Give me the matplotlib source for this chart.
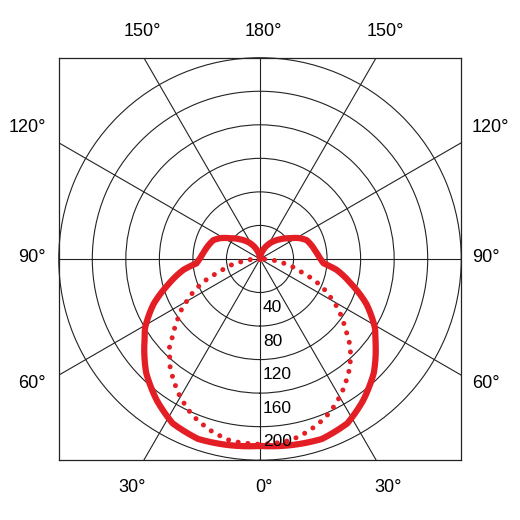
import numpy as np
import matplotlib
matplotlib.use('Agg')
import matplotlib.pyplot as plt

plt.rcParams['font.family'] = ['Liberation Sans', 'DejaVu Sans']

# angles measured from straight down (0°), one half of a symmetric curve
solid_gamma = [0, 9, 19, 28, 36, 45, 55, 59, 67, 74, 82, 86, 90, 96, 104, 112,
               118, 125, 135, 148, 160, 170, 180]
solid_vals = [223, 225, 227, 222, 209, 192, 168, 160, 138, 115, 92, 76, 72, 68,
              64, 60, 53, 43, 33, 22, 12, 5, 0]

dotted_gamma = [0, 7.5, 10, 13, 16, 19, 22, 25, 28, 31, 34, 37, 40, 43, 46, 48,
                54, 57, 60, 63, 66, 69, 71, 74, 78, 81, 86, 90]
dotted_vals = [221, 220, 219, 216, 213, 209, 205, 200, 194, 188, 181, 174, 167,
               158, 150, 141, 121, 112, 101, 91, 80, 68, 58, 46, 36, 24, 13, 0]

ring_vals = [40, 80, 120, 160, 200]
r_max = 240
spoke_angles = np.arange(0, 360, 30)

red = '#e31e24'


def mirror(gamma, vals):
    g = np.radians(np.array(gamma, dtype=float))
    v = np.array(vals, dtype=float)
    return np.concatenate([-g[::-1], g[1:]]), np.concatenate([v[::-1], v[1:]])


fig = plt.figure(figsize=(5.2, 5.2), dpi=100)
rect = [0.113, 0.115, 0.774, 0.774]

# square frame + spokes
ax = fig.add_axes(rect)
ax.set_xlim(-r_max, r_max)
ax.set_ylim(-r_max, r_max)
ax.set_xticks([])
ax.set_yticks([])
for s in ax.spines.values():
    s.set_linewidth(0.9)
    s.set_color('#222222')
L = 500
for a in np.radians(spoke_angles):
    ax.plot([0, L * np.sin(a)], [0, -L * np.cos(a)], color='#222222', lw=0.8)

# polar part: rings and curves
pax = fig.add_axes(rect, projection='polar')
pax.patch.set_visible(False)
pax.set_theta_zero_location('S')
pax.set_ylim(0, r_max)
pax.set_xticks([])
pax.set_yticks(ring_vals)
pax.set_yticklabels([])
pax.yaxis.grid(True, color='#222222', lw=0.8)
pax.spines['polar'].set_linewidth(0.8)
pax.spines['polar'].set_color('#222222')

th, r = mirror(dotted_gamma, dotted_vals)
dl, = pax.plot(th, r, color=red, lw=3.6, linestyle=(0, (0.01, 1.95)),
               dash_capstyle='round')
th, r = mirror(solid_gamma, solid_vals)
sl, = pax.plot(th, r, color=red, lw=4.5, solid_joinstyle='round',
               solid_capstyle='round')
# bend the segments in polar space so the outline is not faceted
for ln in (dl, sl):
    ln.get_path()._interpolation_steps = 40

for v in ring_vals:
    pax.annotate(str(v), xy=(0, v), xytext=(2, -11), textcoords='offset points',
                 ha='left', va='center', fontsize=12.5)

# angle labels around the frame (pixel positions in a 520 px figure)
def ftext(px, py, s, ha):
    fig.text(px / 520, 1 - py / 520, s, ha=ha, va='center', fontsize=13)

for px, s in [(142, '150°'), (263, '180°'), (385, '150°')]:
    ftext(px, 32, s, 'center')
for px, s in [(132, '30°'), (264, '0°'), (388, '30°')]:
    ftext(px, 487, s, 'center')
for py, s in [(128, '120°'), (258, '90°'), (383, '60°')]:
    ftext(46, py, s, 'right')
    ftext(472, py, s, 'left')

fig.savefig('out.png', dpi=100)
